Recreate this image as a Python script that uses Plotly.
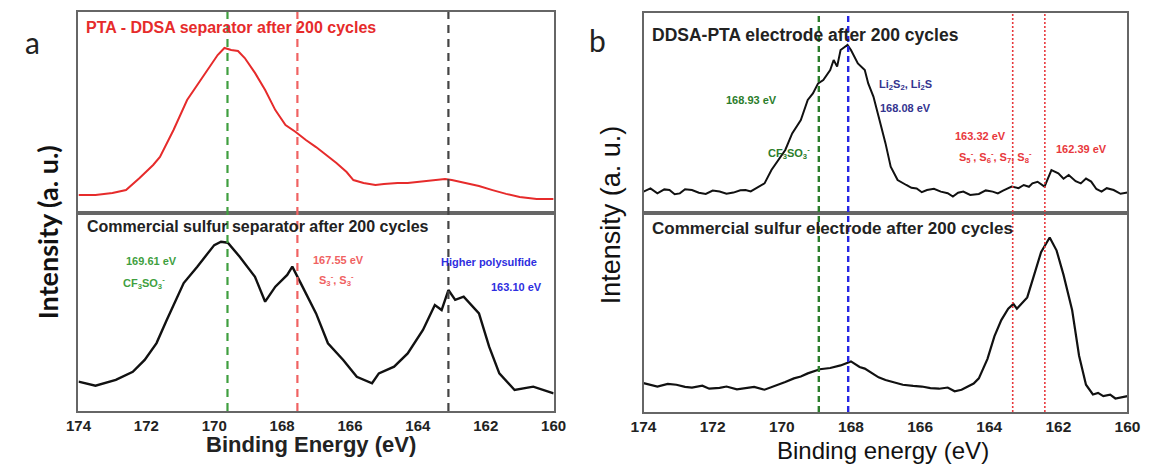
import plotly.graph_objects as go

# ---------------- data ----------------
tick_vals = [174, 172, 170, 168, 166, 164, 162, 160]

# (a) PTA-DDSA separator after 200 cycles
a_top_ev = [174.0, 173.5, 173.0, 172.6, 172.2, 171.8, 171.6, 171.2, 170.8, 170.4,
            170.1, 169.9, 169.7, 169.5, 169.3, 169.1, 168.8, 168.5, 168.2, 167.9,
            167.6, 167.3, 167.0, 166.7, 166.4, 166.1, 165.9, 165.6, 165.25, 165.0,
            164.6, 164.3, 164.0, 163.6, 163.2, 163.0, 162.6, 162.2, 161.8, 161.4,
            161.0, 160.5, 160.0]
a_top_int = [9.0, 9.0, 10.0, 11.4, 17.4, 23.9, 27.9, 41.3, 56.2, 66.2,
             73.6, 78.6, 82.1, 81.1, 80.6, 77.1, 69.7, 61.2, 51.2, 43.8,
             40.3, 36.3, 32.8, 28.9, 24.9, 20.4, 16.4, 14.9, 13.9, 14.4,
             14.9, 14.9, 15.4, 15.9, 16.9, 16.4, 14.9, 13.4, 11.4, 9.5,
             8.0, 7.0, 7.0]

# (a) commercial sulfur separator after 200 cycles
a_bot_ev = [174.0, 173.5, 172.9, 172.4, 172.05, 171.7, 171.4, 171.1, 170.9, 170.5,
            170.2, 170.0, 169.8, 169.6, 169.25, 168.8, 168.5, 168.2, 167.85, 167.7,
            167.4, 167.0, 166.65, 166.2, 165.8, 165.35, 165.15, 164.7, 164.3, 163.85,
            163.5, 163.3, 163.1, 162.9, 162.65, 162.2, 161.9, 161.6, 161.15, 160.6,
            160.0]
a_bot_int = [14.8, 12.8, 15.7, 19.8, 25.8, 34.3, 46.0, 57.7, 64.6, 72.9,
             79.8, 83.8, 85.5, 85.0, 77.9, 67.8, 55.2, 62.8, 68.7, 72.9,
             62.8, 49.3, 34.2, 25.8, 17.3, 14.0, 19.0, 22.4, 29.1, 40.9,
             53.5, 51.0, 61.1, 56.1, 57.7, 49.3, 32.5, 19.0, 10.6, 12.3,
             8.9]

# (b) DDSA-PTA electrode after 200 cycles
b_top_ev = [174.0, 173.8, 173.6, 173.4, 173.25, 173.1, 172.95, 172.8, 172.6, 172.4,
            172.2, 172.0, 171.8, 171.6, 171.4, 171.2, 171.05, 170.9, 170.75, 170.5,
            170.3, 170.1, 169.9, 169.7, 169.45, 169.25, 169.1, 168.95, 168.8, 168.6,
            168.5, 168.4, 168.3, 168.1, 168.0, 167.8, 167.6, 167.5, 167.35, 167.2,
            167.0, 166.85, 166.65, 166.4, 166.25, 166.1, 165.95, 165.8, 165.6, 165.4,
            165.2, 165.05, 164.9, 164.75, 164.55, 164.3, 164.1, 163.9, 163.75, 163.6,
            163.35, 163.15, 163.0, 162.85, 162.75, 162.6, 162.4, 162.2, 162.0, 161.85,
            161.7, 161.5, 161.35, 161.2, 161.05, 160.9, 160.75, 160.6, 160.4, 160.2,
            160.0]
b_top_int = [10.7, 12.3, 9.8, 11.8, 11.5, 9.4, 9.8, 11.9, 11.5, 10.1,
             9.5, 11.2, 10.7, 9.6, 10.2, 11.4, 11.5, 10.8, 12.3, 14.8,
             21.5, 26.5, 31.5, 39.8, 46.5, 56.5, 59.8, 64.8, 66.5, 71.5,
             76.5, 73.2, 81.5, 84.0, 81.5, 74.8, 71.5, 64.8, 58.2, 48.2,
             34.8, 23.2, 16.5, 14.0, 12.6, 12.3, 10.4, 11.5, 12.1, 10.7,
             9.9, 8.2, 10.1, 10.7, 9.0, 9.5, 11.3, 10.7, 9.8, 11.2,
             13.2, 12.4, 14.0, 13.1, 14.8, 15.6, 13.2, 21.5, 19.8, 17.1,
             19.0, 15.9, 14.8, 17.2, 15.7, 12.0, 10.7, 12.4, 11.5, 9.6,
             10.2]

# (b) commercial sulfur electrode after 200 cycles
b_bot_ev = [174.0, 173.8, 173.6, 173.3, 173.05, 172.8, 172.6, 172.3, 172.1, 171.8,
            171.6, 171.3, 171.05, 170.8, 170.5, 170.3, 170.1, 169.9, 169.65, 169.45,
            169.25, 168.9, 168.6, 168.3, 168.0, 167.75, 167.6, 167.45, 167.2, 167.0,
            166.75, 166.5, 166.2, 165.95, 165.7, 165.45, 165.2, 165.0, 164.8, 164.6,
            164.45, 164.3, 164.05, 163.85, 163.65, 163.45, 163.3, 163.2, 162.9, 162.7,
            162.5, 162.25, 162.05, 161.85, 161.6, 161.4, 161.2, 161.0, 160.85, 160.7,
            160.5, 160.35, 160.15, 160.0]
b_bot_int = [14.5, 13.6, 12.8, 14.1, 13.7, 12.6, 12.3, 13.2, 11.7, 12.1,
             12.8, 11.4, 12.0, 12.6, 11.2, 12.4, 13.7, 15.1, 16.9, 17.8,
             19.4, 21.5, 22.1, 23.4, 25.4, 22.6, 21.8, 20.2, 17.4, 16.1,
             14.9, 13.7, 13.1, 12.8, 12.0, 11.7, 12.3, 10.4, 11.2, 12.8,
             14.3, 16.9, 26.7, 38.0, 46.2, 51.9, 54.3, 51.9, 57.6, 68.9,
             80.3, 87.7, 81.1, 68.9, 51.1, 28.3, 13.7, 8.8, 9.6, 8.0,
             8.7, 6.8, 7.6, 8.0]

# reference binding energies (eV)
a_lines = [169.61, 167.55, 163.10]
b_lines = [168.93, 168.08, 163.32, 162.39]

# ---------------- layout helpers ----------------
W, H = 1161, 465


def fx(px):
    return px / W


def fy(px):
    return 1 - px / H


GREEN_A = "#3f9f3f"
RED_A = "#f06262"
GREY_A = "#444444"
GREEN_B = "#2b7d2b"
BLUE_B = "#2525e6"
RED_B = "#e8383c"
RED_CURVE = "#e62b2b"
FRAME = "#666666"

fig = go.Figure()

curves = [
    (a_top_ev, a_top_int, "x", "y", RED_CURVE, 2.0),
    (a_bot_ev, a_bot_int, "x2", "y2", "#111111", 2.4),
    (b_top_ev, b_top_int, "x3", "y3", "#111111", 2.0),
    (b_bot_ev, b_bot_int, "x4", "y4", "#111111", 2.2),
]
for xs, ys, xa, ya, col, w in curves:
    fig.add_trace(go.Scatter(x=xs, y=ys, xaxis=xa, yaxis=ya, mode="lines",
                             line=dict(color=col, width=w), showlegend=False,
                             hoverinfo="skip"))

# panel boxes (pixel edges)
A_L, A_R, A_T, A_M, A_B = 67, 553, 12, 213, 411
B_L, B_R, B_T, B_M, B_B = 645, 1140, 13, 213, 412

tickfont_a = dict(family="Liberation Sans, Arial", size=15, color="#222222")
tickfont_b = dict(family="Liberation Sans, Arial", size=15.5, color="#222222")


def xaxis(dom, labels, tf, anchor):
    return dict(domain=dom, range=[174, 160], showgrid=False, zeroline=False,
                showline=True, mirror=True, linecolor=FRAME, linewidth=1.6,
                tickvals=tick_vals, ticktext=[f"<b>{v}</b>" for v in tick_vals],
                showticklabels=labels, ticks="", tickfont=tf, anchor=anchor)


def yaxis(dom, anchor):
    return dict(domain=dom, range=[0, 100], showgrid=False, zeroline=False,
                showline=True, mirror=True, linecolor=FRAME, linewidth=1.6,
                showticklabels=False, ticks="", anchor=anchor)


fig.update_layout(
    width=W, height=H, margin=dict(l=0, r=0, t=0, b=0),
    plot_bgcolor="white", paper_bgcolor="white",
    xaxis=xaxis([fx(A_L), fx(A_R)], False, tickfont_a, "y"),
    yaxis=yaxis([fy(A_M), fy(A_T)], "x"),
    xaxis2=xaxis([fx(A_L), fx(A_R)], True, tickfont_a, "y2"),
    yaxis2=yaxis([fy(A_B), fy(A_M)], "x2"),
    xaxis3=xaxis([fx(B_L), fx(B_R)], False, tickfont_b, "y3"),
    yaxis3=yaxis([fy(B_M), fy(B_T)], "x3"),
    xaxis4=xaxis([fx(B_L), fx(B_R)], True, tickfont_b, "y4"),
    yaxis4=yaxis([fy(B_B), fy(B_M)], "x4"),
)

# vertical reference lines spanning each panel
shapes = []
for e, col in zip(a_lines, [GREEN_A, RED_A, GREY_A]):
    shapes.append(dict(type="line", xref="x2", yref="paper", x0=e, x1=e,
                       y0=fy(A_B), y1=fy(A_T),
                       line=dict(color=col, width=2.2, dash="8px,6px")))
for e, col, d, w in zip(b_lines, [GREEN_B, BLUE_B, RED_B, RED_B],
                        ["6px,4px", "6px,4px", "2px,2px", "2px,2px"],
                        [2.4, 2.4, 1.6, 1.6]):
    shapes.append(dict(type="line", xref="x4", yref="paper", x0=e, x1=e,
                       y0=fy(B_B), y1=fy(B_T),
                       line=dict(color=col, width=w, dash=d)))
fig.update_layout(shapes=shapes)

ann = []


def label(text, px, pyy, color, size, family="Liberation Sans, Arial",
          anchor="center", angle=0, bold=True):
    t = f"<b>{text}</b>" if bold else text
    ann.append(dict(text=t, x=fx(px), y=fy(pyy), xref="paper", yref="paper",
                    xanchor=anchor, yanchor="middle", showarrow=False,
                    textangle=angle,
                    font=dict(family=family, size=size, color=color)))


# panel (a)
label("PTA - DDSA separator after 200 cycles", 73, 28, RED_CURVE, 16, anchor="left")
label("Commercial sulfur separator after 200 cycles", 74, 226, "#222222", 16, anchor="left")
label("169.61 eV", 142, 261, GREEN_A, 11)
label("CF<sub>3</sub>SO<sub>3</sub><sup>-</sup>", 134, 283, GREEN_A, 11)
label("167.55 eV", 333, 260, RED_A, 11)
label("S<sub>3</sub><sup>-</sup>, S<sub>3</sub><sup>-</sup>", 331, 280, RED_A, 11)
label("Higher polysulfide", 487, 262, "#2e2ee0", 11)
label("163.10 eV", 515, 287, "#2e2ee0", 11)
label("a", 20, 42, "#222222", 30, family="Lato, Open Sans", bold=False)
label("Intensity (a. u.)", 35, 232, "#111111", 27, family="Lato, Open Sans", angle=-90)
label("Binding Energy (eV)", 305, 444, "#222222", 22)

# panel (b)
label("DDSA-PTA electrode after 200 cycles", 652, 35, "#222222", 17.5, anchor="left")
label("Commercial sulfur electrode after 200 cycles", 652, 229, "#222222", 17, anchor="left")
label("168.93 eV", 755, 100, GREEN_B, 11)
label("CF<sub>3</sub>SO<sub>3</sub><sup>-</sup>", 794, 153, GREEN_B, 11)
label("Li<sub>2</sub>S<sub>2</sub>, Li<sub>2</sub>S", 913, 85, "#34348f", 11)
label("168.08 eV", 913, 108, "#34348f", 11)
label("163.32 eV", 990, 136, RED_B, 11)
label("S<sub>5</sub><sup>-</sup>, S<sub>6</sub><sup>-</sup>, S<sub>7</sub>, S<sub>8</sub><sup>-</sup>",
      1005, 157, RED_B, 11)
label("162.39 eV", 1065, 149, RED_B, 11, anchor="left")
label("b", 598, 40, "#222222", 30, family="Lato, Open Sans", bold=False)
label("Intensity (a. u.)", 612, 215, "#111111", 27, angle=-90, bold=False)
label("Binding energy (eV)", 890, 450, "#111111", 24, bold=False)

fig.update_layout(annotations=ann)

fig.write_html("out.html")
